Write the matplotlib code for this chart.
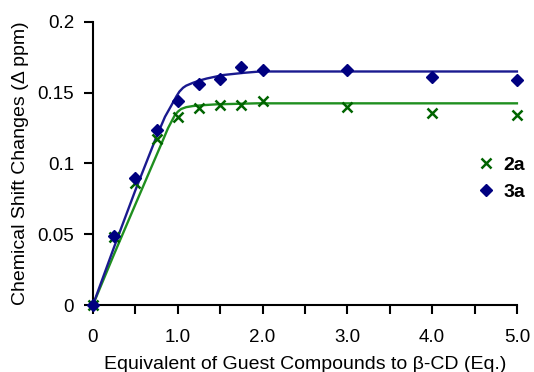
import matplotlib
matplotlib.use("Agg")
import matplotlib.pyplot as plt
from matplotlib.ticker import MultipleLocator

plt.rcParams['font.family'] = ['Liberation Sans', 'DejaVu Sans']

x_eq = [0, 0.25, 0.5, 0.75, 1.0, 1.25, 1.5, 1.75, 2.0, 3.0, 4.0, 5.0]
y_2a = [0, 0.048, 0.086, 0.117, 0.133, 0.139, 0.141, 0.141, 0.144, 0.140, 0.136, 0.134]
y_3a = [0, 0.049, 0.090, 0.124, 0.144, 0.156, 0.160, 0.168, 0.166, 0.166, 0.161, 0.159]

fit_x_2a = [0, 0.25, 0.5, 0.787, 0.886, 0.93, 0.965, 1.0, 1.04, 1.1, 1.18, 1.3, 1.457, 1.93, 3.0, 4.0, 5.0]
fit_2a = [0, 0.036, 0.071, 0.111, 0.125, 0.130, 0.134, 0.1365, 0.1385, 0.1398, 0.1406, 0.1412, 0.1418, 0.1425, 0.1425, 0.1425, 0.1425]
fit_x_3a = [0, 0.25, 0.5, 0.75, 0.85, 0.925, 0.96, 0.985, 1.02, 1.063, 1.1, 1.18, 1.25, 1.34, 1.535, 1.77, 1.97, 3.0, 4.0, 5.0]
fit_3a = [0, 0.041, 0.081, 0.119, 0.133, 0.141, 0.1448, 0.1475, 0.1508, 0.1535, 0.155, 0.157, 0.1585, 0.160, 0.1625, 0.164, 0.165, 0.165, 0.165, 0.165]

xticks = [0, 1, 2, 3, 4, 5]
xticklabels = ["0", "1.0", "2.0", "3.0", "4.0", "5.0"]
yticks = [0, 0.05, 0.1, 0.15, 0.2]
yticklabels = ["0", "0.05", "0.1", "0.15", "0.2"]

fig = plt.figure(figsize=(5.34, 3.72), dpi=100)
ax = fig.add_axes([0.174, 0.180, 0.794, 0.761])

green_line = '#1f8f1f'
blue_line = '#1a1a8f'
green_mk = '#006400'
blue_mk = '#000080'

ax.plot(fit_x_2a, fit_2a, color=green_line, lw=1.7, clip_on=False)
ax.plot(fit_x_3a, fit_3a, color=blue_line, lw=1.7, clip_on=False)
ax.plot(x_eq, y_2a, 'x', color=green_mk, ms=7, mew=1.8, ls='none', label='2a', clip_on=False, zorder=3)
ax.plot(x_eq, y_3a, 'D', color=blue_mk, ms=6, ls='none', label='3a', clip_on=False, zorder=3)

ax.set_xlim(0, 5)
ax.set_ylim(0, 0.2)
ax.set_xticks(xticks)
ax.set_xticklabels(xticklabels)
ax.xaxis.set_minor_locator(MultipleLocator(0.5))
ax.set_yticks(yticks)
ax.set_yticklabels(yticklabels)
for s in ['top', 'right']:
    ax.spines[s].set_visible(False)
for s in ['left', 'bottom']:
    ax.spines[s].set_linewidth(1.5)
ax.tick_params(axis='both', which='both', direction='out', length=6.5, width=1.5, labelsize=13.5, colors='black')
ax.tick_params(axis='x', which='major', pad=11)
ax.tick_params(axis='y', which='major', pad=7)

ax.set_xlabel("Equivalent of Guest Compounds to β-CD (Eq.)", fontsize=14, labelpad=7)
ax.set_ylabel("Chemical Shift Changes (Δ ppm)", fontsize=14, labelpad=6)

h, l = ax.get_legend_handles_labels()
leg = fig.legend(h, l, loc='center left', bbox_to_anchor=(476 / 534, (372 - 178.5) / 372), frameon=False,
                 prop={'weight': 'bold', 'size': 14}, handlelength=1.0, handletextpad=0.4,
                 labelspacing=0.5, borderpad=0, borderaxespad=0)

fig.savefig("out.png", dpi=100)
